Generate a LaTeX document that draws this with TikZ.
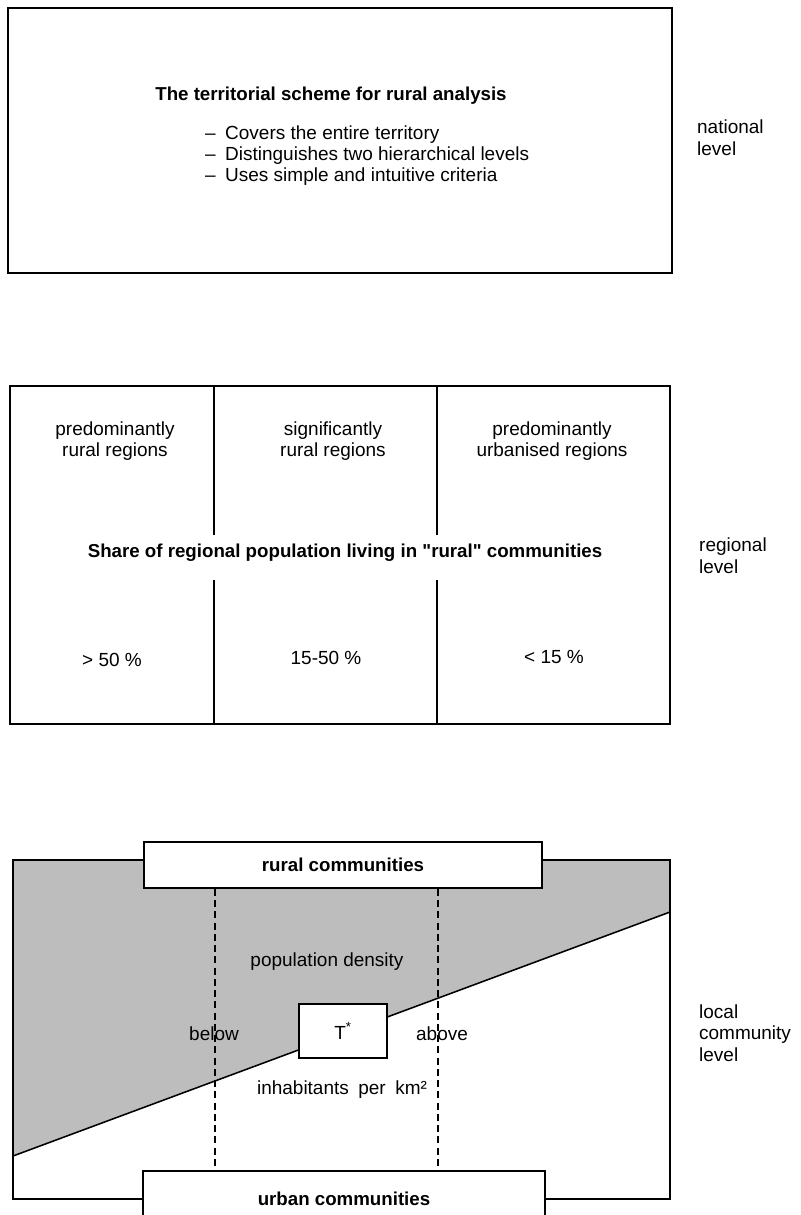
\documentclass[tikz,border=0pt]{standalone}
\usepackage{fontspec}
\setmainfont{Liberation Sans}
\definecolor{stipple}{gray}{0.74}
\tikzset{
  txt/.style={font=\fontsize{13.5}{15.5}\selectfont,inner sep=1pt},
  head/.style={font=\fontsize{13.3}{15}\selectfont\bfseries,inner sep=1pt},
  level/.style={txt,anchor=west,align=left},
  whitebox/.style={draw,fill=white,line width=1.1pt,inner sep=0pt}
}
\begin{document}
\begin{tikzpicture}[x=0.025cm,y=-0.025cm,line width=1.1pt]
\path[use as bounding box,clip] (0,0) rectangle (801,1215);
% national level
\coordinate (N1) at (8,8);
\coordinate (N2) at (672,273);
\draw (N1) rectangle (N2);
\node[head] (title) at (331,96) {The territorial scheme for rural analysis};
\node[txt,anchor=west] (c1) at (203,135) {--\enspace Covers the entire territory};
\node[txt,anchor=west] (c2) at (203,156) {--\enspace Distinguishes two hierarchical levels};
\node[txt,anchor=west] (c3) at (203,177) {--\enspace Uses simple and intuitive criteria};
\node[level] (nat) at (695,138) {national\\level};
% regional level
\coordinate (R1) at (10,386);
\coordinate (R2) at (670,724);
\draw (R1) rectangle (R2);
\foreach \x in {214,437} {
  \draw (\x,386) -- (\x,535);
  \draw (\x,580) -- (\x,724);
}
\node[txt,align=center] (pr) at (115,441) {predominantly\\rural regions};
\node[txt,align=center] (sr) at (333,441) {significantly\\rural regions};
\node[txt,align=center] (pu) at (552,441) {predominantly\\urbanised regions};
\node[head] (share) at (345,553) {Share of regional population living in \textquotedbl rural\textquotedbl{} communities};
\node[txt] (p1) at (112,660) {> 50 \%};
\node[txt] (p2) at (326,658) {15-50 \%};
\node[txt] (p3) at (554,657) {< 15 \%};
\node[level] (reg) at (697,556) {regional\\level};
% local community level
\coordinate (L1) at (13,860);
\coordinate (L2) at (670,1199);
\coordinate (A) at (13,1156);
\coordinate (B) at (670,912);
\coordinate (D1) at (215,0);
\coordinate (D2) at (438,0);
\fill[stipple] (L1) -- (L1 -| B) -- (B) -- (A) -- cycle;
\draw (L1) rectangle (L2);
\draw (A) -- (B);
\node[head,whitebox,minimum width=9.95cm,minimum height=1.15cm] (rural) at (343,865) {rural communities};
\node[head,whitebox,minimum width=10.05cm,minimum height=1.4cm] (urban) at (344,1199) {urban communities};
\draw[dash pattern=on 5pt off 3pt] (rural.south -| D1) -- (urban.north -| D1);
\draw[dash pattern=on 5pt off 3pt] (rural.south -| D2) -- (urban.north -| D2);
\node[txt,whitebox,minimum width=2.2cm,minimum height=1.35cm] (T) at (343,1031) {T\textsuperscript{*}};
\node[txt] (dens) at (327,962) {population density};
\node[txt] (below) at (214,1034) {below};
\node[txt] (above) at (442,1034) {above};
\node[txt] (inh) at (342,1090) {inhabitants\enspace per\enspace km²};
\node[level] (loc) at (697,1033) {local\\community\\level};
\end{tikzpicture}
\end{document}
